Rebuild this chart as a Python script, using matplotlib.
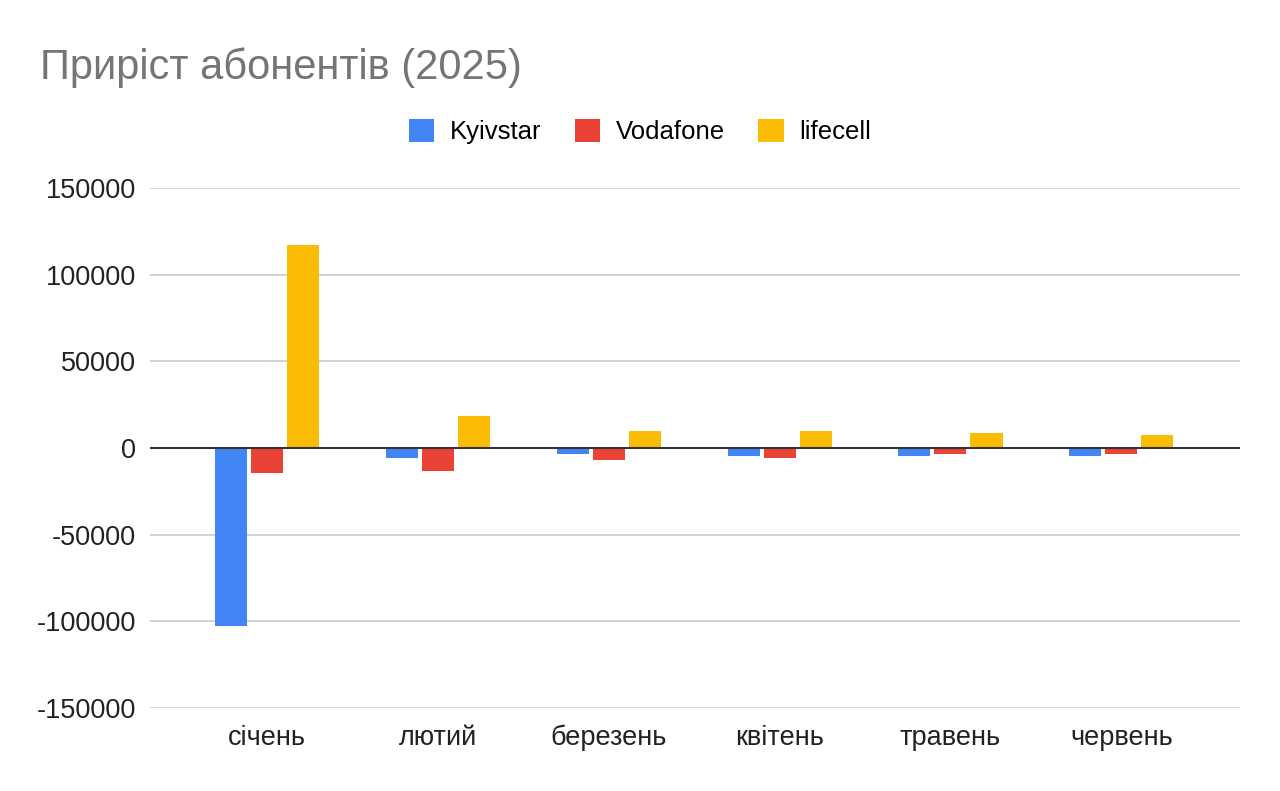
import numpy as np
import matplotlib.pyplot as plt

plt.rcParams['font.family'] = ['Liberation Sans', 'DejaVu Sans']

months = ['січень', 'лютий', 'березень', 'квітень', 'травень', 'червень']
kyivstar = [-102500, -5600, -3500, -4400, -4400, -4400]
vodafone = [-14200, -13300, -6900, -5600, -3300, -3300]
lifecell = [117000, 18600, 10000, 10000, 9000, 7700]

series = [kyivstar, vodafone, lifecell]
names = ['Kyivstar', 'Vodafone', 'lifecell']
colors = ['#4285F4', '#EA4335', '#FBBC04']

fig = plt.figure(figsize=(12.8, 7.91), dpi=100)
ax = fig.add_axes([0.117, 0.105, 0.852, 0.657])

index = np.arange(len(months))
step = 0.211
bar_width = 0.1875
for h in range(len(series)):
    ax.bar(index + (h - 1) * step, series[h], bar_width,
           color=colors[h], label=names[h], zorder=3)

ax.set_xlim(-0.688, len(months) - 1 + 0.697)
ax.set_ylim(-150000, 150000)
ax.set_yticks(np.arange(-150000, 150001, 50000))
ax.set_yticklabels([str(v) for v in np.arange(-150000, 150001, 50000)])
ax.set_xticks(index)
ax.set_xticklabels(months)
ax.grid(axis='y', color='#cccccc', linewidth=1.2, zorder=0)
ax.axhline(0, color='#333333', linewidth=1.5, zorder=4)
for s in ax.spines.values():
    s.set_visible(False)
ax.tick_params(length=0, labelsize=19.5, colors='#222222')
ax.tick_params(axis='y', pad=10)
ax.tick_params(axis='x', pad=12)

fig.text(0.031, 0.914, 'Приріст абонентів (2025)', fontsize=30,
         color='#757575', va='center', ha='left')

fig.legend(loc='center', bbox_to_anchor=(0.5, 0.834), ncol=3, frameon=False,
           fontsize=18.5, handlelength=1.0, handleheight=1.0,
           handletextpad=0.6, columnspacing=1.3)

fig.savefig('out.png', dpi=100, facecolor='white')
